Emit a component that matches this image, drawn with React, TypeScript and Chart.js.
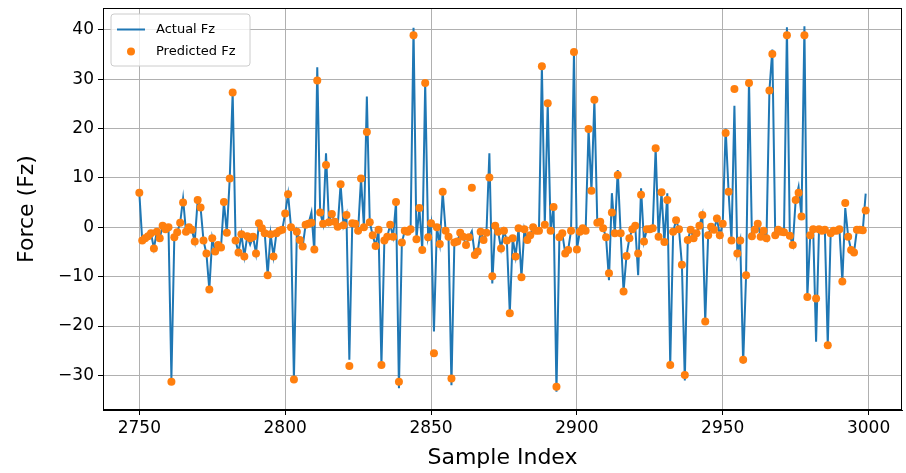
import React, { useEffect, useRef } from "react";
import { Chart, registerables } from "chart.js";

Chart.register(...registerables);

const START_INDEX = 2750;

const predictedFz = [
  7.0, -2.7, -2.2, -1.8, -1.2, -4.3, -0.9, -2.2, 0.3, -0.4,
  0.0, -31.3, -2.0, -1.0, 0.9, 5.0, -0.9, 0.0, -0.5, -2.9,
  5.5, 4.0, -2.7, -5.3, -12.6, -2.2, -4.9, -3.6, -4.1, 5.1,
  -1.1, 9.9, 27.3, -2.7, -5.1, -1.4, -5.9, -1.8, -2.2, -1.9,
  -5.3, 0.8, -0.2, -1.2, -9.7, -1.4, -5.9, -1.2, -0.7, -0.5,
  2.8, 6.7, 0.0, -30.8, -0.9, -2.6, -3.9, 0.5, 0.7, 0.9,
  -4.5, 29.7, 3.0, 0.7, 12.6, 1.0, 2.7, 1.1, 0.1, 8.7,
  0.4, 2.5, -28.1, 0.8, 0.7, -0.7, 9.9, 0.0, 19.3, 1.0,
  -1.6, -3.8, -0.5, -27.9, -2.7, -1.9, 0.5, -1.9, 5.1, -31.3,
  -3.1, -0.7, -0.9, -0.4, 38.9, -2.4, 3.9, -4.6, 29.2, -2.0,
  0.8, -25.5, 0.0, -3.4, 7.2, -0.7, -1.9, -30.6, -3.1, -2.9,
  -1.1, -1.9, -3.6, -2.0, 8.0, -5.6, -4.9, -0.9, -2.6, -1.1,
  10.1, -9.9, 0.3, -0.9, -4.3, -0.7, -2.7, -17.4, -2.2, -5.9,
  -0.2, -10.1, -0.4, -2.6, -1.6, 0.0, -0.7, -0.7, 32.6, 0.5,
  25.1, -0.7, 4.1, -32.3, -2.0, -1.2, -5.3, -4.6, -0.7, 35.5,
  -4.5, -0.9, -0.2, -0.7, 19.9, 7.4, 25.8, 0.9, 1.1, -0.2,
  -2.0, -9.3, 3.0, -1.2, 10.6, -1.2, -13.0, -5.8, -2.2, -0.4,
  0.3, -5.3, 6.6, -2.9, -0.4, -0.4, -0.2, 16.0, -1.9, 7.1,
  -3.0, 5.5, -27.9, -0.9, 1.4, -0.4, -7.6, -29.9, -2.6, -0.5,
  -2.2, -1.2, 0.3, 2.5, -19.1, -1.6, 0.1, -0.5, 1.8, -1.6,
  0.7, 19.1, 7.2, -2.7, 28.0, -5.3, -2.7, -26.8, -9.7, 29.2,
  -1.8, -0.5, 0.7, -1.9, -0.7, -2.2, 27.7, 35.1, -1.6, -0.5,
  -0.9, -1.0, 38.9, -1.7, -3.6, 5.5, 7.0, 2.2, 38.9, -14.1,
  -1.6, -0.4, -14.4, -0.4, -0.7, -0.5, -23.9, -1.2, -0.7, -0.7,
  -0.4, -11.0, 4.9, -1.9, -4.6, -5.1, -0.5, -0.5, -0.6, 3.4,
];

const actualFz = [
  7.0, -2.7, -2.2, -1.8, -1.2, -4.3, -0.9, -2.2, 0.3, -0.4,
  0.0, -30.6, -2.0, -1.0, 0.9, 5.8, -0.9, 0.0, -0.5, -2.9,
  5.5, 4.0, -2.7, -5.3, -12.6, -2.2, -4.9, -3.6, -4.1, 5.1,
  -1.1, 9.9, 27.3, -2.7, -5.1, -1.4, -5.9, -1.8, -3.5, -1.9,
  -5.3, 0.8, -0.2, -1.2, -9.7, -1.4, -5.9, -1.2, -0.7, -0.5,
  2.8, 6.7, 0.0, -30.8, -0.9, -2.6, -3.9, 0.5, 0.7, 3.0,
  -5.0, 32.4, 3.0, 0.7, 15.0, 1.0, 2.7, 1.1, 0.1, 8.7,
  0.4, 2.5, -26.8, 0.8, 0.7, -0.7, 9.9, 0.0, 26.5, 1.0,
  -1.6, -3.8, -0.5, -27.9, -2.7, -1.9, 0.5, -1.9, 5.1, -32.6,
  -3.1, -0.7, -0.9, -0.4, 40.4, -2.4, 3.9, -4.6, 29.2, -2.0,
  0.8, -21.1, 0.0, -3.4, 7.2, -0.7, -1.9, -32.0, -3.1, -2.9,
  -1.1, -1.9, -3.6, -2.0, -0.8, -5.6, -4.9, -0.9, -2.6, -1.1,
  15.0, -11.4, 0.3, -0.9, -4.3, -0.7, -2.7, -17.4, -2.2, -5.9,
  -0.2, -10.1, -0.4, -2.6, -1.6, 0.0, -0.7, -0.7, 32.6, 0.5,
  25.1, -0.7, 4.1, -33.3, -2.0, -1.2, -5.3, -4.6, -0.7, 35.5,
  -4.5, -0.9, -0.2, -0.7, 19.9, 7.4, 25.8, 0.9, 1.1, -0.2,
  -2.0, -10.7, 6.9, -1.2, 11.6, -1.2, -13.0, -5.8, -2.2, -0.4,
  0.3, -9.7, 7.9, -2.9, -0.4, -0.4, -0.2, 16.0, -1.9, 7.1,
  -3.0, 6.9, -27.9, -0.9, 1.4, -0.4, -7.6, -31.0, -2.6, -0.5,
  -2.2, -1.2, 0.3, 2.5, -19.1, -1.6, 0.1, -0.5, 1.8, -1.6,
  0.7, 20.0, 7.2, -2.7, 24.6, -5.3, -2.7, -27.6, -9.7, 29.9,
  -1.8, -0.5, 0.7, -1.9, -0.7, -2.2, 27.7, 36.0, -1.6, -0.5,
  -0.9, -1.0, 40.5, -1.7, -3.6, 5.5, 8.2, 2.2, 40.7, -14.1,
  -1.6, -0.4, -23.2, -0.4, -0.7, -0.5, -23.9, -1.2, -0.7, -0.7,
  -0.4, -11.0, 3.9, -1.9, -4.6, -5.1, -0.5, -0.5, -0.6, 6.8,
];

const xTickValues = [2750, 2800, 2850, 2900, 2950, 3000];
const xTickLabels = ["2750", "2800", "2850", "2900", "2950", "3000"];
const yTickValues = [-30, -20, -10, 0, 10, 20, 30, 40];
const yTickLabels = ["\u221230", "\u221220", "\u221210", "0", "10", "20", "30", "40"];
const seriesLabels = ["Actual Fz", "Predicted Fz"];
const xTitle = "Sample Index";
const yTitle = "Force (Fz)";

const X_MIN = 2737.55;
const X_MAX = 3011.45;
const Y_MIN = -37.0;
const Y_MAX = 44.4;

const BLUE = "#1f77b4";
const ORANGE = "#ff7f0e";
const FONT = "'DejaVu Sans', sans-serif";

const framePlugin = {
  id: "frameAndLegend",
  afterDraw(chart: any) {
    const { ctx, chartArea } = chart;
    const { left, right, top, bottom } = chartArea;
    ctx.save();
    ctx.strokeStyle = "#000";
    ctx.lineWidth = 1;
    ctx.strokeRect(Math.round(left) + 0.5, Math.round(top) + 0.5, Math.round(right - left) - 1, Math.round(bottom - top) - 1);

    const bx = left + 8;
    const by = top + 6;
    const bw = 139;
    const bh = 52;
    const r = 3;
    ctx.beginPath();
    ctx.moveTo(bx + r, by);
    ctx.lineTo(bx + bw - r, by);
    ctx.quadraticCurveTo(bx + bw, by, bx + bw, by + r);
    ctx.lineTo(bx + bw, by + bh - r);
    ctx.quadraticCurveTo(bx + bw, by + bh, bx + bw - r, by + bh);
    ctx.lineTo(bx + r, by + bh);
    ctx.quadraticCurveTo(bx, by + bh, bx, by + bh - r);
    ctx.lineTo(bx, by + r);
    ctx.quadraticCurveTo(bx, by, bx + r, by);
    ctx.closePath();
    ctx.fillStyle = "rgba(255,255,255,0.8)";
    ctx.fill();
    ctx.strokeStyle = "#cccccc";
    ctx.lineWidth = 1;
    ctx.stroke();

    const y1 = by + 15.5;
    const y2 = by + 37.5;
    ctx.strokeStyle = BLUE;
    ctx.lineWidth = 2;
    ctx.beginPath();
    ctx.moveTo(bx + 6, y1);
    ctx.lineTo(bx + 34, y1);
    ctx.stroke();

    ctx.fillStyle = ORANGE;
    ctx.beginPath();
    ctx.arc(bx + 20, y2, 4, 0, Math.PI * 2);
    ctx.fill();

    ctx.fillStyle = "#000";
    ctx.font = "13px " + FONT;
    ctx.textBaseline = "middle";
    ctx.textAlign = "left";
    ctx.fillText(chart.data.datasets[0].label, bx + 45, y1);
    ctx.fillText(chart.data.datasets[1].label, bx + 45, y2);
    ctx.restore();
  },
};

const noPad = (s: any) => {
  s.paddingLeft = 0;
  s.paddingRight = 0;
  s.paddingTop = 0;
  s.paddingBottom = 0;
};

export default function App() {
  const canvasRef = useRef<HTMLCanvasElement>(null);

  useEffect(() => {
    const sampleIndex = actualFz.map((_, i) => START_INDEX + i);
    const chart = new Chart(canvasRef.current as HTMLCanvasElement, {
      type: "line",
      data: {
        datasets: [
          {
            label: seriesLabels[0],
            data: sampleIndex.map((x, i) => ({ x, y: actualFz[i] })),
            borderColor: BLUE,
            backgroundColor: BLUE,
            borderWidth: 2,
            pointRadius: 0,
            tension: 0,
            fill: false,
            order: 2,
          },
          {
            label: seriesLabels[1],
            data: sampleIndex.map((x, i) => ({ x, y: predictedFz[i] })),
            showLine: false,
            pointRadius: 4,
            pointBorderWidth: 0,
            pointBackgroundColor: ORANGE,
            pointBorderColor: ORANGE,
            backgroundColor: ORANGE,
            borderColor: ORANGE,
            order: 1,
          },
        ],
      },
      options: {
        animation: false,
        responsive: false,
        devicePixelRatio: 1,
        layout: { padding: { top: 8, right: 1, left: 0, bottom: 0 } },
        plugins: {
          legend: { display: false },
          tooltip: { enabled: false },
        },
        scales: {
          x: {
            type: "linear",
            min: X_MIN,
            max: X_MAX,
            afterBuildTicks: (s: any) => {
              s.ticks = xTickValues.map((v) => ({ value: v }));
            },
            afterFit: (s: any) => {
              s.height = 63;
              noPad(s);
            },
            grid: {
              color: "#b0b0b0",
              lineWidth: 1,
              tickLength: 5,
              tickColor: "#000",
              tickWidth: 1,
            },
            border: { color: "#000", width: 1 },
            ticks: {
              color: "#000",
              font: { family: FONT, size: 17 },
              padding: 3,
              maxRotation: 0,
              autoSkip: false,
              callback: (v: any) => {
                const i = xTickValues.indexOf(Number(v));
                return i >= 0 ? xTickLabels[i] : "";
              },
            },
            title: {
              display: true,
              text: xTitle,
              color: "#000",
              font: { family: FONT, size: 22 },
              padding: { top: 0, bottom: 2 },
            },
          },
          y: {
            type: "linear",
            min: Y_MIN,
            max: Y_MAX,
            afterBuildTicks: (s: any) => {
              s.ticks = yTickValues.map((v) => ({ value: v }));
            },
            afterFit: (s: any) => {
              s.width = 103;
              noPad(s);
            },
            grid: {
              color: "#b0b0b0",
              lineWidth: 1,
              tickLength: 5,
              tickColor: "#000",
              tickWidth: 1,
            },
            border: { color: "#000", width: 1 },
            ticks: {
              color: "#000",
              font: { family: FONT, size: 17 },
              padding: 4,
              autoSkip: false,
              callback: (v: any) => {
                const i = yTickValues.indexOf(Number(v));
                return i >= 0 ? yTickLabels[i] : "";
              },
            },
            title: {
              display: true,
              text: yTitle,
              color: "#000",
              font: { family: FONT, size: 22 },
              padding: { top: 14, bottom: 0 },
            },
          },
        },
      },
      plugins: [framePlugin],
    });
    return () => chart.destroy();
  }, []);

  return (
    <div style={{ position: "fixed", left: 0, top: 0, width: 906, height: 473, background: "#fff" }}>
      <canvas ref={canvasRef} width={906} height={473} style={{ width: 906, height: 473, display: "block" }} />
    </div>
  );
}
